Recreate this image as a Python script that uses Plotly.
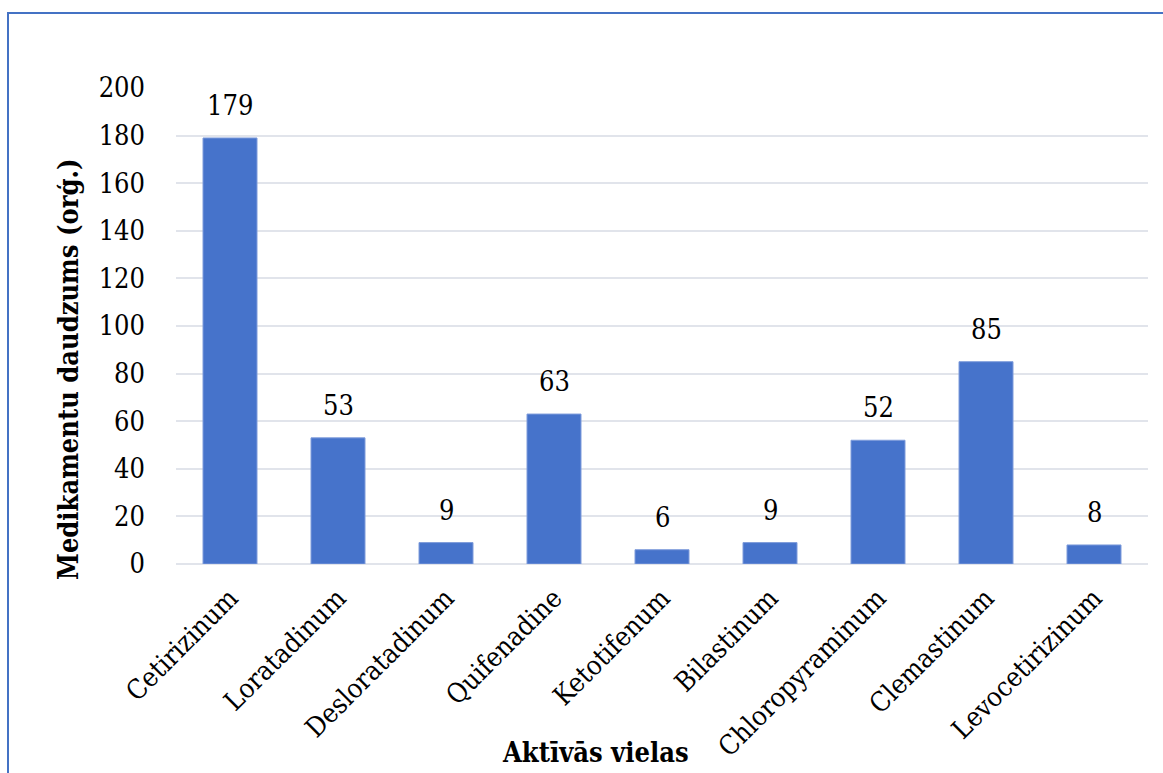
import plotly.graph_objects as go

# Active substances and the number of medicine packages for each
substances = ["Cetirizinum", "Loratadinum", "Desloratadinum", "Quifenadine",
              "Ketotifenum", "Bilastinum", "Chloropyraminum", "Clemastinum",
              "Levocetirizinum"]
counts = [179, 53, 9, 63, 6, 9, 52, 85, 8]
y_ticks = [0, 20, 40, 60, 80, 100, 120, 140, 160, 180, 200]

y_title = "Medikamentu daudzums (orģ.)"
x_title = "Aktīvās vielas"

FONT = "DejaVu Serif Condensed, DejaVu Serif"
FS = 27
BAR_BLUE = "#4673CB"
GRID = "#E1E4EB"
FRAME = "#4472C4"

# Figure and plot-area geometry in pixels
W, H = 1163, 773
L, R, T, B = 176, 15, 88, 209
pw, ph = W - L - R, H - T - B


def px_to_paper(px, py):
    return (px - L) / pw, (H - B - py) / ph


fig = go.Figure()
fig.add_trace(go.Bar(
    x=substances,
    y=counts,
    marker=dict(color=BAR_BLUE, line=dict(color="#7E9CDB", width=1)),
    hoverinfo="x+y",
))

# Value labels above each bar
for name, val in zip(substances, counts):
    fig.add_annotation(
        x=name, y=val, text=str(val), showarrow=False,
        xref="x", yref="y", yanchor="bottom", yshift=15,
        font=dict(family=FONT, size=FS, color="#000000"),
    )

# Axis titles
ytx, yty = px_to_paper(68, 370)
fig.add_annotation(
    x=ytx, y=yty, xref="paper", yref="paper", text=f"<b>{y_title}</b>",
    showarrow=False, textangle=-90, xanchor="center", yanchor="middle",
    font=dict(family=FONT, size=FS, color="#000000"),
)
xtx, xty = px_to_paper(595, 752)
fig.add_annotation(
    x=xtx, y=xty, xref="paper", yref="paper", text=f"<b>{x_title}</b>",
    showarrow=False, xanchor="center", yanchor="middle",
    font=dict(family=FONT, size=FS, color="#000000"),
)

fig.update_layout(
    width=W, height=H,
    margin=dict(l=L, r=R, t=T, b=B),
    paper_bgcolor="white", plot_bgcolor="white",
    bargap=0.5, showlegend=False,
    font=dict(family=FONT, size=FS, color="#000000"),
    xaxis=dict(
        tickangle=-45, showgrid=False, showline=False, ticks="",
        tickfont=dict(family=FONT, size=FS, color="#000000"),
        ticklabelstandoff=12, automargin=False,
    ),
    yaxis=dict(
        range=[0, 200], tickvals=y_ticks, showgrid=True, gridcolor=GRID,
        gridwidth=2, zeroline=True, zerolinecolor=GRID, zerolinewidth=2,
        showline=False, ticks="", ticklabelstandoff=30, automargin=False,
        tickfont=dict(family=FONT, size=FS, color="#000000"),
    ),
)

# Blue chart-area frame, extending past the right and bottom edges
fx0, fy0 = px_to_paper(8, 800)
fx1, fy1 = px_to_paper(1200, 13)
fig.add_shape(
    type="rect", xref="paper", yref="paper",
    x0=fx0, x1=fx1, y0=fy0, y1=fy1,
    line=dict(color=FRAME, width=2), fillcolor="rgba(0,0,0,0)", layer="above",
)

fig.write_html("out.html")
